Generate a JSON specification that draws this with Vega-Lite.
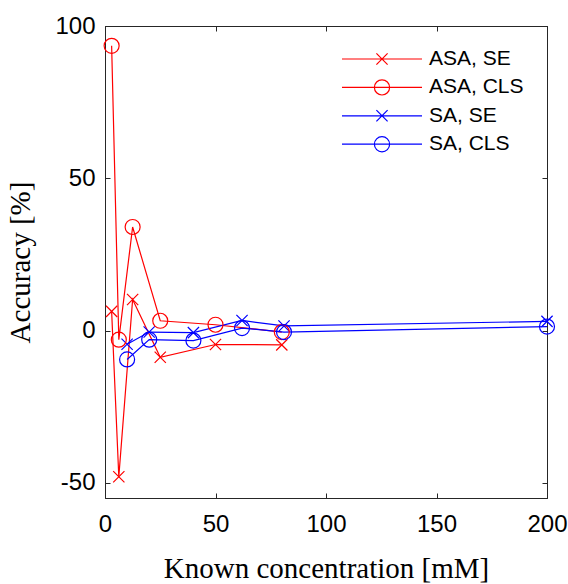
{
  "$schema": "https://vega.github.io/schema/vega-lite/v6.json",
  "width": 442,
  "height": 472,
  "autosize": {"type": "none"},
  "padding": {"left": 105, "top": 26, "right": 21, "bottom": 86},
  "background": "white",
  "config": {
    "view": {"stroke": "#262626"},
    "axis": {"grid": false, "domainColor": "#262626", "tickColor": "#262626", "labelColor": "black", "titleColor": "black",
             "labelFont": "Liberation Sans", "labelFontSize": 24, "titleFont": "Liberation Serif", "titleFontSize": 29, "titleFontWeight": "normal",
             "tickSize": -5, "labelFlush": false, "labelOverlap": false}
  },
  "data": {"values": [
    {"series": "ASA, SE", "kind": "SE", "x": 3, "y": 6.3},
    {"series": "ASA, SE", "kind": "SE", "x": 6.25, "y": -48},
    {"series": "ASA, SE", "kind": "SE", "x": 12.5, "y": 10.2},
    {"series": "ASA, SE", "kind": "SE", "x": 25, "y": -8.8},
    {"series": "ASA, SE", "kind": "SE", "x": 50, "y": -4.6},
    {"series": "ASA, SE", "kind": "SE", "x": 80, "y": -4.7},
    {"series": "ASA, CLS", "kind": "CLS", "x": 3, "y": 93.5},
    {"series": "ASA, CLS", "kind": "CLS", "x": 6.25, "y": -3},
    {"series": "ASA, CLS", "kind": "CLS", "x": 12.5, "y": 34},
    {"series": "ASA, CLS", "kind": "CLS", "x": 25, "y": 3.2},
    {"series": "ASA, CLS", "kind": "CLS", "x": 50, "y": 1.9},
    {"series": "ASA, CLS", "kind": "CLS", "x": 80, "y": -0.5},
    {"series": "SA, SE", "kind": "SE", "x": 10, "y": -4.5},
    {"series": "SA, SE", "kind": "SE", "x": 20, "y": -0.5},
    {"series": "SA, SE", "kind": "SE", "x": 40, "y": -0.7},
    {"series": "SA, SE", "kind": "SE", "x": 62, "y": 3.3},
    {"series": "SA, SE", "kind": "SE", "x": 81, "y": 1.5},
    {"series": "SA, SE", "kind": "SE", "x": 200, "y": 3},
    {"series": "SA, CLS", "kind": "CLS", "x": 10, "y": -9.5},
    {"series": "SA, CLS", "kind": "CLS", "x": 20, "y": -3},
    {"series": "SA, CLS", "kind": "CLS", "x": 40, "y": -3.3},
    {"series": "SA, CLS", "kind": "CLS", "x": 62, "y": 0.8},
    {"series": "SA, CLS", "kind": "CLS", "x": 81, "y": -0.5},
    {"series": "SA, CLS", "kind": "CLS", "x": 200, "y": 1.3}
  ]},
  "layer": [
    {
      "mark": {"type": "line", "strokeWidth": 1.2},
      "encoding": {
        "x": {"field": "x", "type": "quantitative", "scale": {"domain": [0, 200], "nice": false, "zero": false},
              "axis": {"values": [0, 50, 100, 150, 200], "labelPadding": 19, "title": "Known concentration [mM]", "titlePadding": 18}},
        "y": {"field": "y", "type": "quantitative", "scale": {"domain": [-55, 100], "nice": false, "zero": false},
              "axis": {"values": [-50, 0, 50, 100], "labelPadding": 15, "title": "Accuracy [%]", "titlePadding": 19,
                       "labelExpr": "replace(datum.label, '−', '-')"}},
        "color": {"field": "series", "type": "nominal",
                  "scale": {"domain": ["ASA, SE", "ASA, CLS", "SA, SE", "SA, CLS"], "range": ["#ff0000", "#ff0000", "#0000ff", "#0000ff"]},
                  "legend": {"title": null, "orient": "none", "legendX": 236, "legendY": 21, "padding": 0,
                             "labelFont": "Liberation Sans", "labelFontSize": 21, "labelColor": "black", "labelOffset": 6,
                             "symbolSize": 6400, "rowPadding": 4.4, "clipHeight": 24, "symbolStrokeWidth": 1.2,
                             "encode": {"symbols": {"update": {
                               "shape": {"signal": "indexof(datum.value, 'CLS') >= 0 ? 'M-1,0H1M0.19,0A0.19,0.19 0 1,1 -0.19,0A0.19,0.19 0 1,1 0.19,0' : 'M-1,0H1M-0.14,-0.14L0.14,0.14M-0.14,0.14L0.14,-0.14'"},
                               "fill": {"value": "transparent"},
                               "size": {"value": 6400}
                             }}}}},
        "order": {"field": "x", "type": "quantitative"}
      }
    },
    {
      "transform": [{"filter": "datum.kind == 'SE'"}],
      "mark": {"type": "point", "filled": false, "size": 225, "strokeWidth": 1.2, "opacity": 1, "shape": "M-0.75,-0.75L0.75,0.75M-0.75,0.75L0.75,-0.75"},
      "encoding": {
        "x": {"field": "x", "type": "quantitative", "axis": {"orient": "top", "values": [0, 50, 100, 150, 200], "labels": false, "title": null}},
        "y": {"field": "y", "type": "quantitative", "axis": {"orient": "right", "values": [-50, 0, 50, 100], "labels": false, "title": null}},
        "color": {"field": "series", "type": "nominal", "legend": null}
      }
    },
    {
      "transform": [{"filter": "datum.kind == 'CLS'"}],
      "mark": {"type": "point", "filled": false, "size": 225, "strokeWidth": 1.2, "opacity": 1, "shape": "circle"},
      "encoding": {
        "x": {"field": "x", "type": "quantitative", "axis": null},
        "y": {"field": "y", "type": "quantitative", "axis": null},
        "color": {"field": "series", "type": "nominal", "legend": null}
      }
    }
  ],
  "resolve": {"axis": {"x": "independent", "y": "independent"}}
}
